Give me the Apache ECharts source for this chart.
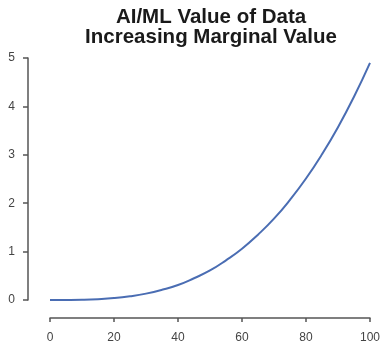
<!DOCTYPE html>
<html><head><meta charset="utf-8">
<script src="https://cdn.jsdelivr.net/npm/echarts@6/dist/echarts.min.js"></script>
<style>html,body{margin:0;padding:0;background:#fff}#c{width:383px;height:344px}</style>
</head><body><div id="c"></div>
<script>
const titleLines = ['AI/ML Value of Data', 'Increasing Marginal Value'];
const xValues = [0,5,10,15,20,25,30,35,40,45,50,55,60,65,70,75,80,85,90,95,100];
const yValues = [0,0.001,0.005,0.017,0.039,0.077,0.132,0.21,0.31,0.45,0.61,0.82,1.06,1.35,1.68,2.07,2.51,3.01,3.57,4.2,4.9];
const xTicks = [0,20,40,60,80,100];
const yTicks = [0,1,2,3,4,5];

const chart = echarts.init(document.getElementById('c'), null, {renderer:'canvas'});
const axisColor = '#555';
chart.setOption({
  animation:false,
  backgroundColor:'#fff',
  title:{
    text: titleLines.join('\n'),
    left: 206, top: 2, textAlign:'center',
    textStyle:{fontFamily:'Liberation Sans', fontWeight:'bold', fontSize:20.5, lineHeight:20, color:'#1a1a1a'}
  },
  grid:{left:50, right:11, top:58, bottom:44},
  xAxis:{
    type:'value', min:xTicks[0], max:xTicks[xTicks.length-1], interval:20,
    offset:18,
    axisLine:{show:true, onZero:false, lineStyle:{color:axisColor, width:1.5}},
    axisTick:{show:true, length:4, lineStyle:{color:axisColor, width:1.5}},
    axisLabel:{color:'#444', fontFamily:'Liberation Sans', fontSize:12, margin:14},
    splitLine:{show:false}
  },
  yAxis:{
    type:'value', min:yTicks[0], max:yTicks[yTicks.length-1], interval:1,
    offset:22,
    axisLine:{show:true, onZero:false, lineStyle:{color:axisColor, width:1.5}},
    axisTick:{show:true, length:5, lineStyle:{color:axisColor, width:1.5}},
    axisLabel:{color:'#444', fontFamily:'Liberation Sans', fontSize:12, margin:13},
    splitLine:{show:false}
  },
  series:[{
    type:'line', smooth:true, showSymbol:false,
    data: xValues.map((x,i)=>[x, yValues[i]]),
    lineStyle:{color:'#4a6db3', width:2},
    itemStyle:{color:'#4a6db3'}
  }]
});
</script></body></html>
